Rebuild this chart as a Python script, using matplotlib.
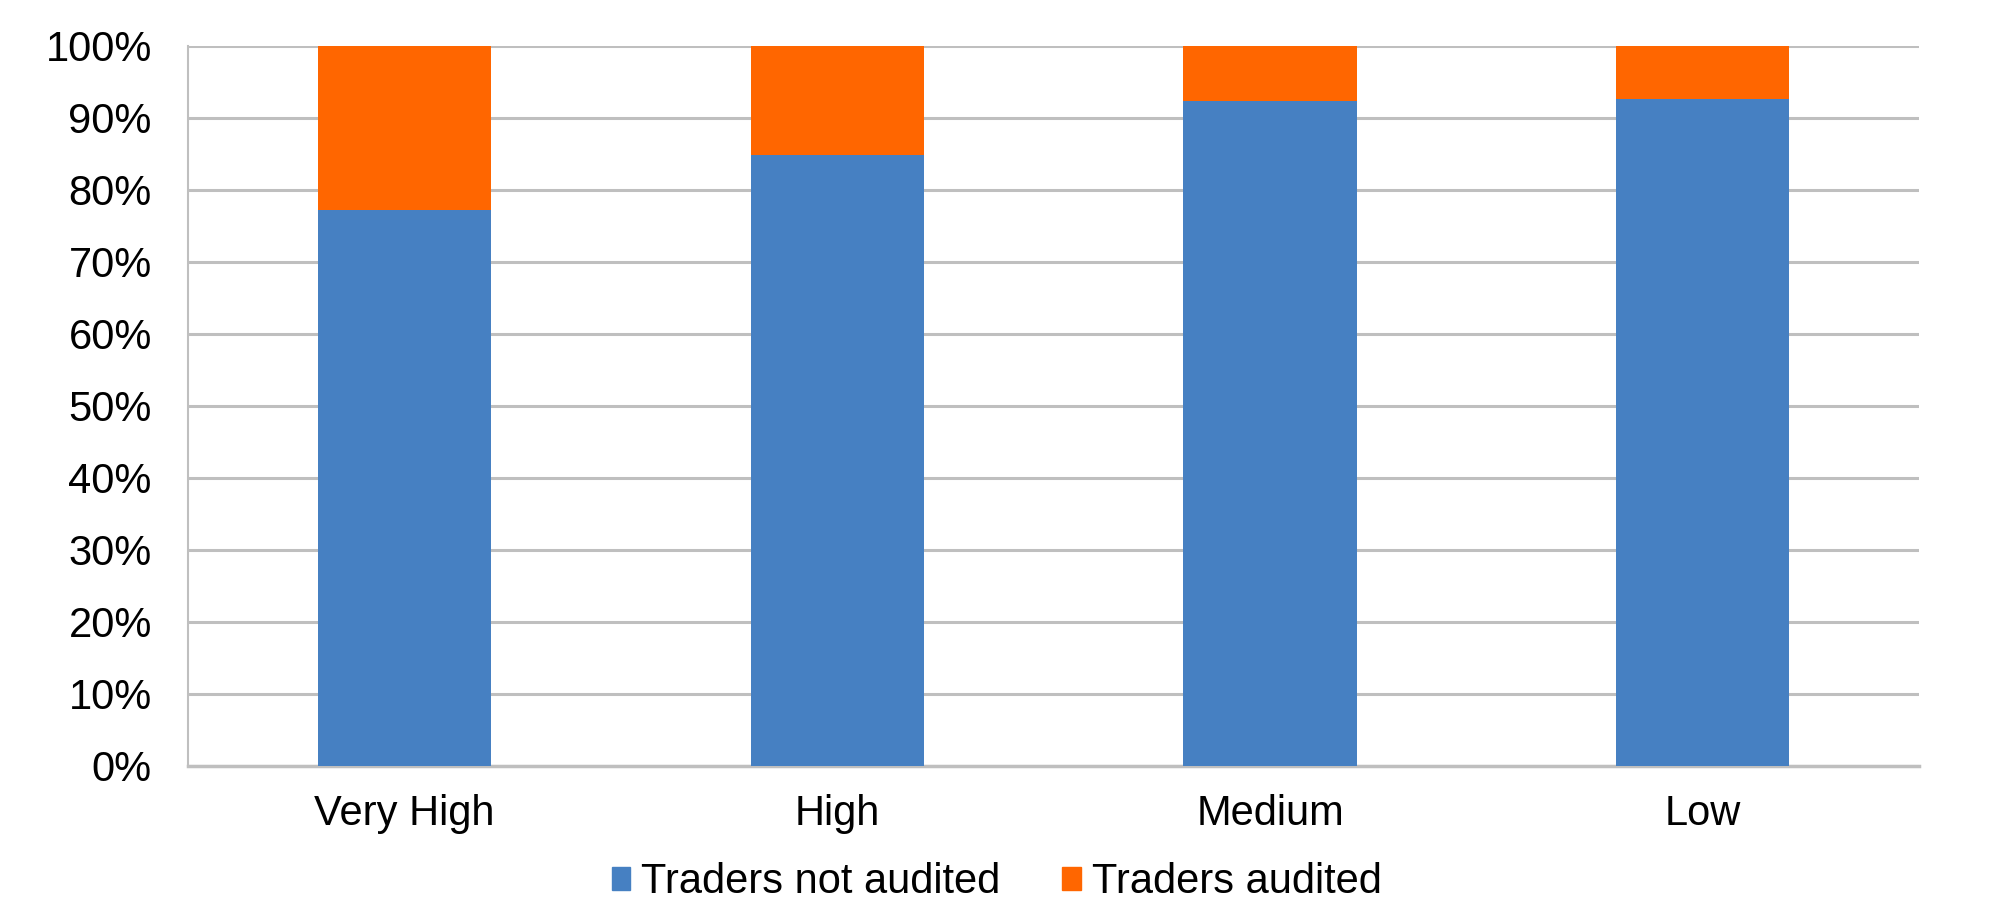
import matplotlib
matplotlib.use("Agg")
import matplotlib.pyplot as plt
from matplotlib.patches import Patch

plt.rcParams['font.family'] = ['Liberation Sans', 'DejaVu Sans']

# data (share of traders, %)
categories = ["Very High", "High", "Medium", "Low"]
not_audited = [77.2, 84.8, 92.3, 92.6]
audited = [100 - v for v in not_audited]
yticks = list(range(0, 101, 10))

blue = '#4680C2'
orange = '#FF6600'
grid = '#BFBFBF'

fig = plt.figure(figsize=(19.93, 9.24), dpi=100)
ax = fig.add_axes([0.0943, 0.171, 0.8687, 0.7795])

x = range(len(categories))
ax.bar(x, not_audited, width=0.4, color=blue, zorder=3)
ax.bar(x, audited, width=0.4, bottom=not_audited, color=orange, zorder=3)

ax.set_xlim(-0.5, len(categories) - 0.5)
ax.set_ylim(0, 100)
ax.set_yticks(yticks)
ax.set_yticklabels([f"{t}%" for t in yticks])
ax.set_xticks(list(x))
ax.set_xticklabels(categories)
ax.tick_params(axis='y', length=0, pad=26, labelsize=30)
ax.tick_params(axis='x', length=0, pad=20, labelsize=30)

ax.yaxis.grid(True, color=grid, linewidth=2.2, zorder=0)
for s in ['top', 'right']:
    ax.spines[s].set_visible(False)
ax.spines['left'].set_color(grid)
ax.spines['left'].set_linewidth(1.5)
ax.spines['bottom'].set_color(grid)
ax.spines['bottom'].set_linewidth(2.5)

handles = [Patch(color=blue, label="Traders not audited"),
           Patch(color=orange, label="Traders audited")]
fig.legend(handles=handles, loc='center', bbox_to_anchor=(0.5, 0.045), ncol=2,
           frameon=False, fontsize=30, handlelength=0.45, handleheight=0.45,
           handletextpad=0.25, columnspacing=1.5)

fig.savefig("out.png", dpi=100)
